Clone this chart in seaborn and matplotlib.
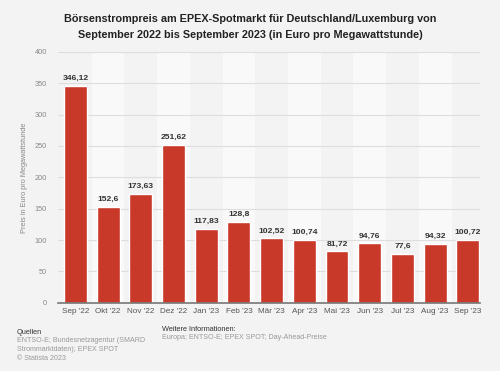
import numpy as np
import pandas as pd
import matplotlib
matplotlib.use("Agg")
import matplotlib.pyplot as plt
import seaborn as sns

# Data
months = ["Sep '22", "Okt '22", "Nov '22", "Dez '22", "Jan '23", "Feb '23", "Mär '23",
          "Apr '23", "Mai '23", "Jun '23", "Jul '23", "Aug '23", "Sep '23"]
prices = [346.12, 152.6, 173.63, 251.62, 117.83, 128.8, 102.52,
          100.74, 81.72, 94.76, 77.6, 94.32, 100.72]
y_ticks = [0, 50, 100, 150, 200, 250, 300, 350, 400]

df = pd.DataFrame({"monat": months, "preis": prices})

sns.set_style("whitegrid")
plt.rcParams['font.family'] = ['Liberation Sans', 'DejaVu Sans']

bg = "#f3f3f3"
fig = plt.figure(figsize=(5, 3.71), dpi=100, facecolor=bg)
ax = fig.add_axes([0.116, 0.184, 0.844, 0.676])
ax.set_facecolor(bg)

# alternating light column bands
for i in range(1, len(months), 2):
    ax.axvspan(i - 0.5, i + 0.5, color="#f9f9f9", zorder=0, lw=0)

sns.barplot(data=df, x="monat", y="preis", color="#c9392a", width=0.7,
            saturation=1, ax=ax, zorder=3)

for i, v in enumerate(prices):
    txt = f"{v:g}".replace(".", ",")
    ax.text(i, v + 6, txt, ha="center", va="bottom", fontsize=6.1,
            fontweight="bold", color="#333333", zorder=4)

ax.set_ylim(0, 400)
ax.set_xlim(-0.53, 12.37)
ax.set_yticks(y_ticks)
ax.set_yticklabels([str(t) for t in y_ticks], fontsize=5.3, color="#888888")
ax.tick_params(axis="x", labelsize=5.9, labelcolor="#555555", length=0, pad=4)
ax.tick_params(axis="y", length=0, pad=8)
ax.grid(axis="y", color="#dedede", lw=0.8, zorder=1)
ax.grid(axis="x", visible=False)
for s in ["top", "right", "left"]:
    ax.spines[s].set_visible(False)
ax.spines["bottom"].set_color("#777777")
ax.spines["bottom"].set_linewidth(1.2)
ax.spines["bottom"].set_zorder(5)
ax.set_xlabel("")
ax.set_ylabel("Preis in Euro pro Megawattstunde", fontsize=5.3, color="#888888", labelpad=5)

fig.text(0.5, 0.962, "Börsenstrompreis am EPEX-Spotmarkt für Deutschland/Luxemburg von\n"
         "September 2022 bis September 2023 (in Euro pro Megawattstunde)",
         ha="center", va="top", fontsize=7.8, fontweight="bold", color="#222222",
         linespacing=1.8)

# footer
fig.text(0.034, 0.103, "Quellen", fontsize=5.3, color="#333333", va="center")
fig.text(0.034, 0.091, "ENTSO-E; Bundesnetzagentur (SMARD\nStrommarktdaten); EPEX SPOT\n© Statista 2023",
         fontsize=5.1, color="#999999", va="top", linespacing=1.35)
fig.text(0.325, 0.113, "Weitere Informationen:", fontsize=5.3, color="#333333", va="center")
fig.text(0.325, 0.100, "Europa; ENTSO-E; EPEX SPOT; Day-Ahead-Preise",
         fontsize=5.1, color="#999999", va="top")

fig.savefig("out.png", dpi=100, facecolor=bg)
